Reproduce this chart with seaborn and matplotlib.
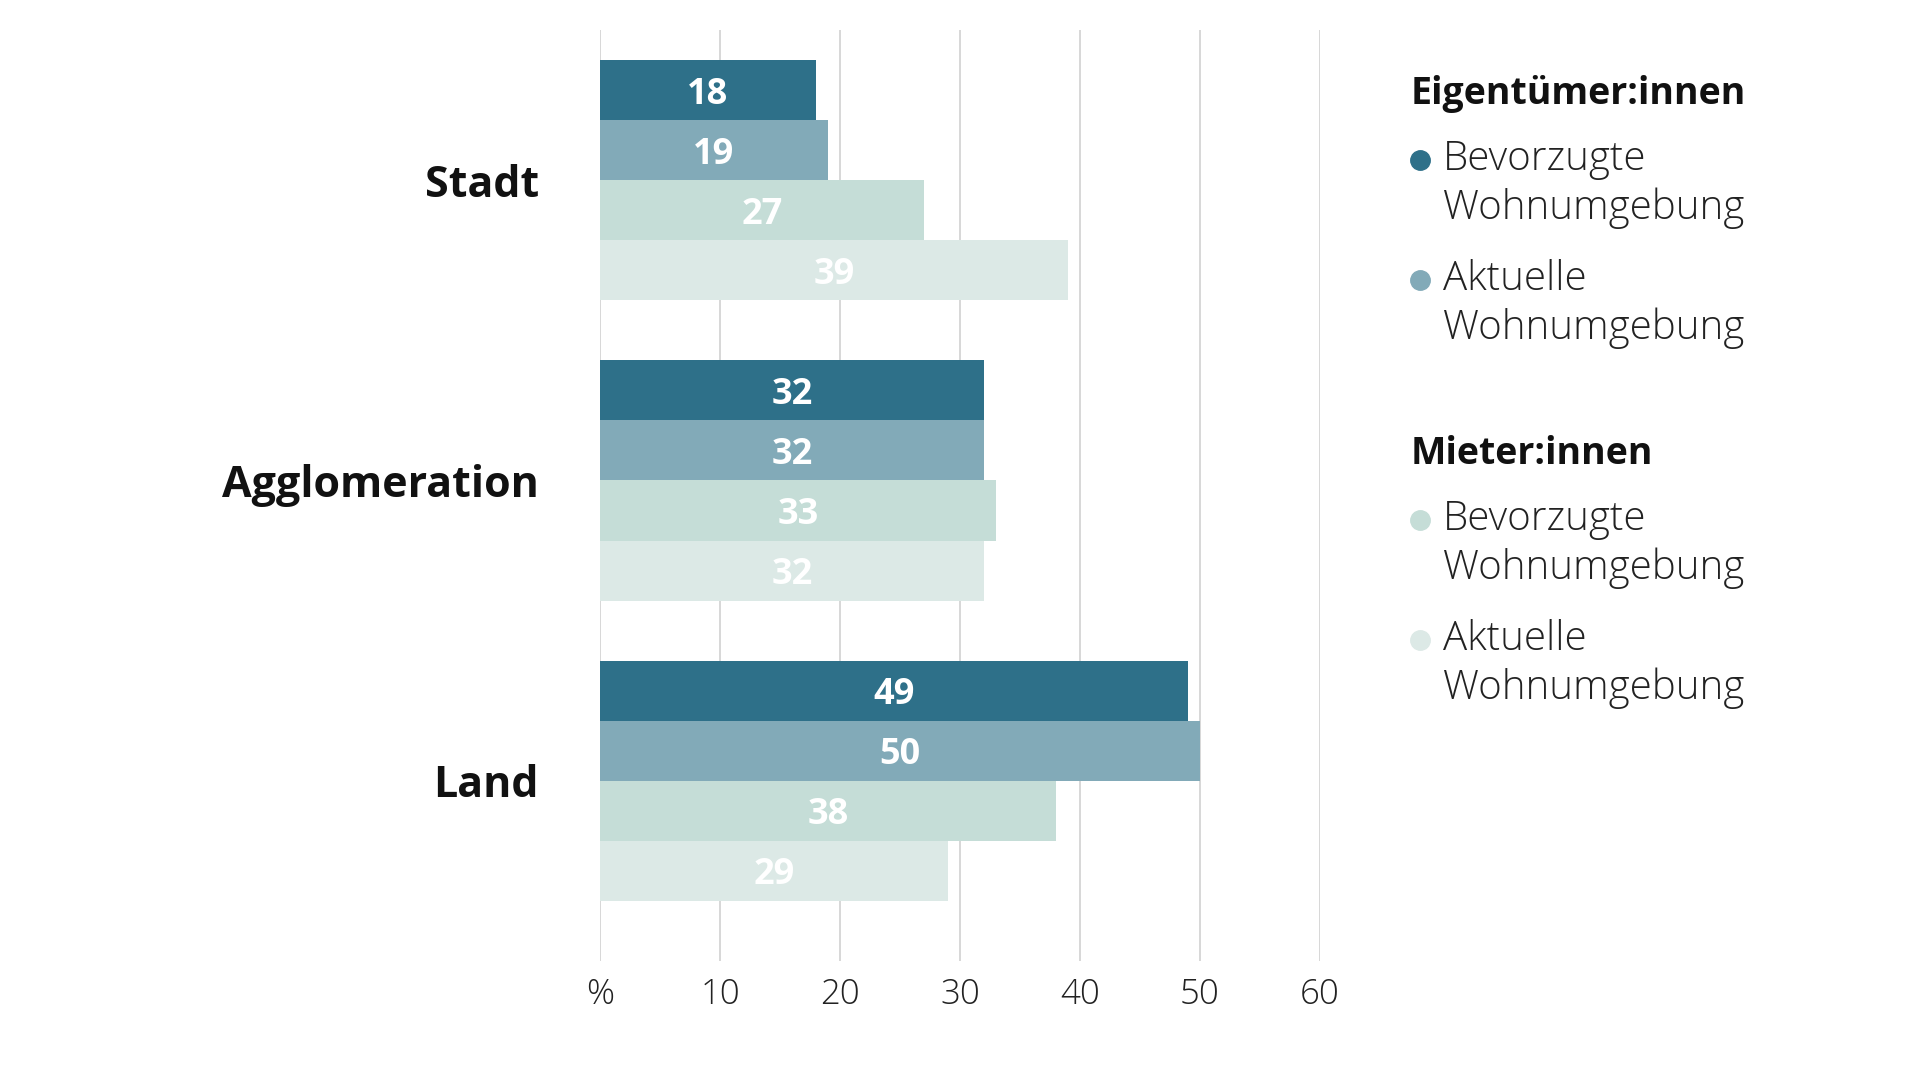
import pandas as pd
import matplotlib.pyplot as plt
from matplotlib.lines import Line2D
import seaborn as sns

regions = ['Stadt', 'Agglomeration', 'Land']
series = ['Eigentümer bevorzugt', 'Eigentümer aktuell', 'Mieter bevorzugt', 'Mieter aktuell']
eig_bevorzugt = [18, 32, 49]
eig_aktuell = [19, 32, 50]
mie_bevorzugt = [27, 33, 38]
mie_aktuell = [39, 32, 29]
colors = ['#2e7089', '#82aab8', '#c5ddd7', '#dce9e6']
xticks = [0, 10, 20, 30, 40, 50, 60]
xticklabels = ['%', '10', '20', '30', '40', '50', '60']

rows = []
for s, vals in zip(series, [eig_bevorzugt, eig_aktuell, mie_bevorzugt, mie_aktuell]):
    for r, v in zip(regions, vals):
        rows.append({'Region': r, 'Serie': s, 'Wert': v})
df = pd.DataFrame(rows)

sns.set_style('white')
plt.rcParams['font.family'] = ['Open Sans', 'DejaVu Sans']

fig = plt.figure(figsize=(19.2, 10.8), dpi=100)
ax = fig.add_axes([0.3125, 0.1102, 0.375, 0.862])

sns.barplot(data=df, y='Region', x='Wert', hue='Serie', order=regions, hue_order=series,
            palette=colors, orient='h', width=0.8, saturation=1, legend=False, ax=ax,
            linewidth=0, zorder=3)

# Werte mittig in den Balken
for cont in ax.containers:
    labels = ax.bar_label(cont, label_type='center', color='white', fontsize=26, fontweight='bold')
    for t in labels:
        t.set_va('center_baseline')

ax.set_xlim(0, 60)
ax.set_ylim(2.6, -0.5)
ax.set_xticks(xticks)
ax.set_xticklabels(xticklabels, fontsize=25, fontweight='light', color='#222222')
ax.set_yticks(range(len(regions)))
ax.set_yticklabels(regions, fontsize=31, fontweight='bold', color='#111111')
ax.tick_params(axis='x', length=0, pad=12)
ax.tick_params(axis='y', length=0, pad=44)
ax.xaxis.grid(True, color='#d4d4d4', linewidth=1.3, zorder=0)
ax.set_axisbelow(True)
ax.set_xlabel('')
ax.set_ylabel('')
for sp in ax.spines.values():
    sp.set_visible(False)

# Legende
def fy(p):
    return 1 - p / 1080

fig.text(1411 / 1920, fy(94), 'Eigentümer:innen', fontsize=27, fontweight='bold', va='center', color='#111111')
fig.text(1411 / 1920, fy(454), 'Mieter:innen', fontsize=27, fontweight='bold', va='center', color='#111111')
items = [(160, colors[0], 'Bevorzugte'), (280, colors[1], 'Aktuelle'),
         (520, colors[2], 'Bevorzugte'), (640, colors[3], 'Aktuelle')]
for y, c, lab in items:
    fig.add_artist(Line2D([1420 / 1920], [fy(y)], marker='o', markersize=14, color=c,
                          linestyle='', transform=fig.transFigure))
    fig.text(1443 / 1920, fy(y), lab, fontsize=29, fontweight='light', va='center', color='#222222')
    fig.text(1443 / 1920, fy(y + 48), 'Wohnumgebung', fontsize=29, fontweight='light', va='center', color='#222222')

plt.savefig('out.png', dpi=100)
